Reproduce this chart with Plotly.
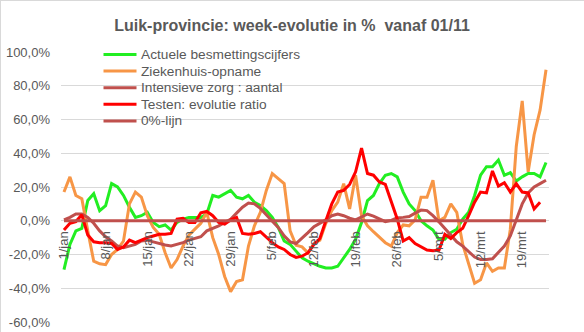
import pandas as pd
import plotly.graph_objects as go

# ---- data (values in %) ----
dates = pd.date_range("2021-01-01", periods=82, freq="D").strftime("%Y-%m-%d").tolist()

tick_dates = dates[::7]
tick_labels = ["1/jan", "8/jan", "15/jan", "22/jan", "29/jan", "5/feb", "12/feb",
               "19/feb", "26/feb", "5/mrt", "12/mrt", "19/mrt"]

y_tickvals = [-60, -40, -20, 0, 20, 40, 60, 80, 100]
y_ticktext = ["-60,0%", "-40,0%", "-20,0%", "0,0%", "20,0%", "40,0%", "60,0%", "80,0%", "100,0%"]

besmettingen = [-29, -14, -6, -4.5, 12, 16, 6, 9, 22, 20,
                15, 8, 2, 3, 5, -1, -3.5, -2.5, -5.5, -1,
                1, 2, 2, 2, 4, 15, 14, 16, 18, 14,
                13, 15, 11, 9, 6, 2, -4, -12, -14, -18,
                -22, -24, -25.5, -27, -28, -28, -27, -22, -17, -11,
                -1, 12, 15, 22, 27, 28, 26, 17, 10, 6,
                0, -3, -5.5, -11, -11, -7, -5, 1, 5, 15,
                27, 32, 32, 36, 27, 28.5, 23.5, 26, 28, 28, 26, 34.5]

ziekenhuis = [17, 26, 15, 13, -6, -24, -25.5, -26, -20, -17,
              -12, 10, 17, 14, 3, -4, -8, -19, -28, -23,
              -15, -8.5, -5, -1.5, 5, -10, -20, -33, -42, -36,
              -35, -15, -3, 5, 18, 28, 25, 22, -6, -14.5,
              -15.5, -19, -13.5, -11.5, -1.5, 6, 11, 22, 7, 27,
              3, -3, -6.5, -10, -13, -15, -7, -2.5, -3, 0.5,
              14, 14, 24, 0, 2, 10, 5, -14, -25, -37,
              -35, -25, -30, -28, -28, -5, 44, 71, 29, 51, 65.5, 89.5]

intensieve_zorg = [0.5, 2, 4, 4, 2, -1.5, -6, -9.5, -12, -15,
                   -16, -15, -14, -12, -11.5, -12.5, -13.5, -14.4, -15, -14,
                   -13, -11.5, -10.5, -9.5, -6, -4.5, -3, -1, 0.8, 4.5,
                   8, 10.5, 10, 7.3, 3.5, 0, -4, -9, -12.5, -13.5,
                   -10.5, -7, -3.5, -1.6, 0.5, 3, 4, 3, 1.5, 0.5,
                   2.5, 4, 2.8, 1, -0.5, 0.2, 1.8, 2, 2.5, 4.5,
                   6.3, 6, 3, -0.6, -4.5, -8.5, -12.5, -15, -18, -21.5,
                   -23, -23, -22.5, -19, -15, -9, 1, 10, 16.5, 20, 22, 24]

testen = [-5.5, -1.5, -0.5, 3.5, -8.5, -12.5, -13, -13, -13.5, -17,
          -15.5, -11.5, -13, -11.5, -10, -9, -8, -8, -7.5, 1,
          1.5, -1, -1, 4.7, 5.5, 3, -1, -2, 0.5, 2,
          -7.5, -8, -7.5, -6.5, -10, -13, -15.5, -17, -20, -21.7,
          -21, -19, -14, -10.5, 0, 10, 17, 18, 21.5, 29,
          43, 28, 27, 23, 21.5, 11, 1, -12, -10, -13.5,
          -15.5, -17.4, -17.8, -17.5, -8, -10.5, -7, -4.5, 3, 11,
          17, 16.5, 29.5, 20.5, 22.5, 17, 22, 17, 16.5, 7, 11, None]

nul_lijn = [0] * 82

series = [
    ("Actuele besmettingscijfers", besmettingen, "#22EE22"),
    ("Ziekenhuis-opname", ziekenhuis, "#F79646"),
    ("Intensieve zorg : aantal", intensieve_zorg, "#C0504D"),
    ("Testen: evolutie ratio", testen, "#FF0000"),
    ("0%-lijn", nul_lijn, "#C0504D"),
]

FONT = "Liberation Sans, Arial, sans-serif"
GREY = "#595959"

fig = go.Figure()
for name, vals, col in series:
    fig.add_trace(go.Scatter(x=dates, y=vals, name=name, mode="lines",
                             line=dict(color=col, width=3), connectgaps=False,
                             showlegend=False))

# plot area geometry (pixels)
L, R, T, B = 61, 35, 52, 10
W, H = 584, 332
pw, ph = W - L - R, H - T - B

def px_x(p):
    return (p - L) / pw

def px_y(q):
    return (H - B - q) / ph

# legend drawn inside plot area (Excel-style compact spacing)
shapes = [
    dict(type="line", xref="paper", yref="paper", x0=px_x(0.5), x1=px_x(0.5),
         y0=px_y(0), y1=px_y(H), line=dict(color="#D9D9D9", width=1)),
    dict(type="line", xref="paper", yref="paper", x0=px_x(0), x1=px_x(W),
         y0=px_y(0.5), y1=px_y(0.5), line=dict(color="#D9D9D9", width=1)),
]
annotations = []
for i, (name, vals, col) in enumerate(series):
    yc = 54.5 + 16.6 * i
    shapes.append(dict(type="line", xref="paper", yref="paper",
                       x0=px_x(103.5), x1=px_x(136.5), y0=px_y(yc), y1=px_y(yc),
                       line=dict(color=col, width=3)))
    annotations.append(dict(text=name, xref="paper", yref="paper",
                            x=px_x(138.5), y=px_y(yc), xanchor="left", yanchor="middle",
                            showarrow=False,
                            font=dict(family=FONT, size=13.7, color=GREY)))

fig.update_layout(
    width=W, height=H,
    margin=dict(l=L, r=R, t=T, b=B, autoexpand=False),
    paper_bgcolor="white", plot_bgcolor="white",
    font=dict(family=FONT, color=GREY),
    title=dict(text="<b>Luik-provincie: week-evolutie in %\u00a0 vanaf 01/11</b>",
               x=0.5, xref="container", xanchor="center",
               y=1 - 25 / H, yref="container", yanchor="middle",
               font=dict(family=FONT, size=16, color=GREY)),
    showlegend=False,
    xaxis=dict(type="date", range=["2020-12-31 12:00", "2021-03-23 12:00"],
               anchor="free", position=60 / 160,
               showgrid=False, zeroline=False, showline=False, ticks="",
               tickmode="array", tickvals=tick_dates, ticktext=tick_labels,
               tickangle=-90, tickfont=dict(family=FONT, size=13, color=GREY),
               ticklabelstandoff=7),
    yaxis=dict(range=[-60, 100], tickmode="array", tickvals=y_tickvals, ticktext=y_ticktext,
               showgrid=True, gridcolor="#D9D9D9", gridwidth=1,
               zeroline=False, showline=False, ticks="",
               tickfont=dict(family=FONT, size=13, color=GREY),
               ticklabelstandoff=10),
    shapes=shapes,
    annotations=annotations,
)

fig.write_html("out.html")
